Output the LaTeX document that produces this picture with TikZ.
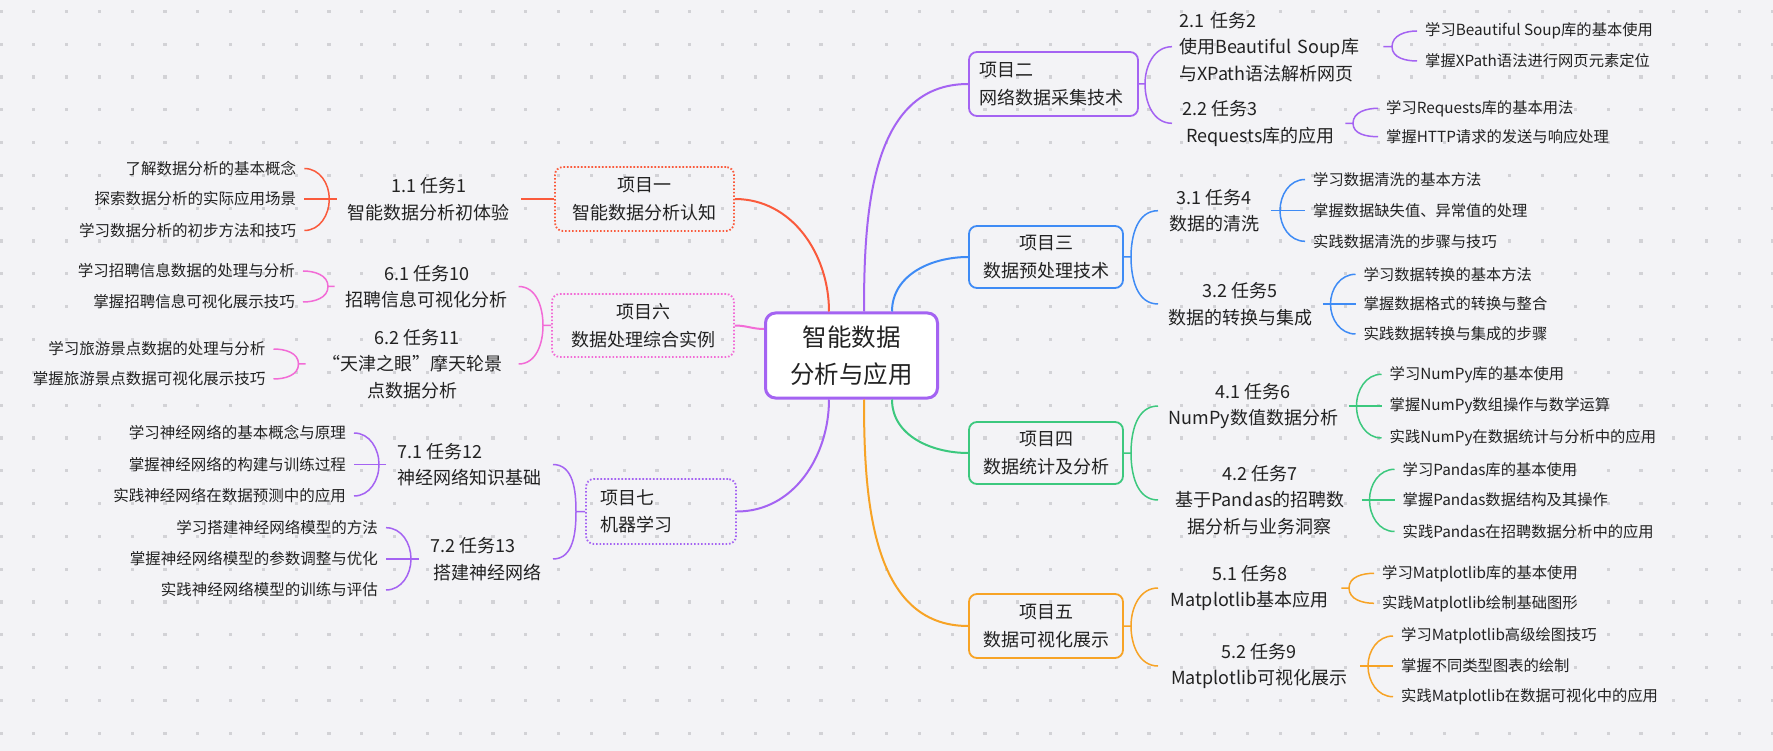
\documentclass[tikz,border=0pt]{standalone}
\usepackage{fontspec}
\setmainfont{Noto Sans CJK SC}
\definecolor{bgc}{HTML}{F3F3F6}
\definecolor{dotc}{HTML}{D2D2D6}
\definecolor{txt}{HTML}{222222}
\definecolor{cred}{HTML}{FA5A3C}
\definecolor{cpink}{HTML}{F26BD6}
\definecolor{cpurp}{HTML}{A463F2}
\definecolor{cblue}{HTML}{3E8BF5}
\definecolor{cgreen}{HTML}{3CC87E}
\definecolor{corange}{HTML}{F7A325}
\begin{document}
\begin{tikzpicture}[x=1pt,y=-1pt,
  centerbox/.style={draw=cpurp, line width=3pt, fill=white, rounded corners=10pt, minimum width=172pt, minimum height=85pt, align=center, text=txt, font=\fontsize{24.5}{37}\selectfont},
  proj/.style={line width=1.8pt, rounded corners=8pt, minimum height=64pt, align=center, text=txt, font=\fontsize{18}{27.5}\selectfont},
  dotline/.style={dash pattern=on 1.6pt off 1.9pt},
  task/.style={inner xsep=7pt, inner ysep=1pt, align=center, text=txt, font=\fontsize{18}{26.5}\selectfont},
  leafR/.style={anchor=west, inner xsep=8pt, inner ysep=1pt, text=txt, font=\fontsize{15.3}{18}\selectfont},
  leafL/.style={anchor=east, inner xsep=8pt, inner ysep=1pt, text=txt, font=\fontsize{15.5}{19}\selectfont},
  br/.style={line width=1.5pt},
  link/.style={line width=2pt}
]
\fill[bgc] (0,0) rectangle (1773,751);
\useasboundingbox (0,0) rectangle (1773,751);
\foreach \i in {0,...,54} \foreach \j in {0,...,22}
  \fill[dotc] ({1+32.8*\i-1.6},{11.5+32.8*\j-1.6}) rectangle ++(3.2,3.2);

% central
\node[centerbox] (c) at (851.5,355.5) {智能数据\\分析与应用};

% projects
\node[proj, draw=cred, dotline, minimum width=179pt] (p1) at (644.5,199) {项目一\\智能数据分析认知};
\node[proj, draw=cpink, dotline, minimum width=182pt, minimum height=63pt] (p6) at (643,325.5) {项目六\\数据处理综合实例};
\node[proj, draw=cpurp, dotline, align=left, text width=122pt, inner xsep=14pt, minimum height=65pt] (p7) at (661,511.5) {项目七\\机器学习};
\node[proj, draw=cpurp, align=left, text width=149pt, inner xsep=10pt] (p2) at (1053.5,84) {项目二\\网络数据采集技术};
\node[proj, draw=cblue, minimum width=154pt, minimum height=62pt] (p3) at (1046,257) {项目三\\数据预处理技术};
\node[proj, draw=cgreen, minimum width=154pt, minimum height=62pt] (p4) at (1046,453) {项目四\\数据统计及分析};
\node[proj, draw=corange, minimum width=154pt] (p5) at (1046,626) {项目五\\数据可视化展示};

% central links
\draw[link,cred] ([xshift=-22.5pt]c.north) to[out=90,in=0] (p1.east);
\draw[link,cpink] ([yshift=26.5pt]c.west) to[out=180,in=0] (p6.east);
\draw[link,cpurp] ([xshift=-22.5pt]c.south) to[out=-90,in=0] (p7.east);
\draw[link,cpurp] ([xshift=12.5pt]c.north) to[out=90,in=180] (p2.west);
\draw[link,cblue] ([xshift=40.5pt]c.north) to[out=90,in=180] (p3.west);
\draw[link,cgreen] ([xshift=40.5pt]c.south) to[out=-90,in=180] (p4.west);
\draw[link,corange] ([xshift=12.5pt]c.south) to[out=-90,in=180] (p5.west);

% ---------- project 1
\node[task, anchor=east, minimum width=183.7pt] (t11) at (521,199) {1.1 任务1\\智能数据分析初体验};
\draw[link,cred] (p1.west) -- (t11.east);
\coordinate (j11) at (329.3,199);
\node[leafL] (l111) at (304.3,168.5) {了解数据分析的基本概念};
\node[leafL] (l112) at (304.3,199) {探索数据分析的实际应用场景};
\node[leafL] (l113) at (304.3,230.5) {学习数据分析的初步方法和技巧};
\draw[br,cred] (t11.west) -- (l112.east);
\draw[br,cred] (j11) to[out=90,in=0] (l111.east);
\draw[br,cred] (j11) to[out=-90,in=0] (l113.east);

% ---------- project 6
\coordinate (jp6) at (543,325.5);
\node[task, anchor=east, minimum width=183.6pt] (t61) at (518.6,286.5) {6.1 任务10\\招聘信息可视化分析};
\node[task, anchor=east, minimum width=212.6pt] (t62) at (518.6,364) {\hspace{10pt}6.2 任务11\\“天津之眼”摩天轮景\\点数据分析};
\draw[br,cpink] (p6.west) -- (jp6) to[out=90,in=0] (t61.east);
\draw[br,cpink] (jp6) to[out=-90,in=0] (t62.east);
\coordinate (j61) at (328,286.5);
\node[leafL] (l611) at (303,271) {学习招聘信息数据的处理与分析};
\node[leafL] (l612) at (303,302) {掌握招聘信息可视化展示技巧};
\draw[br,cpink] (t61.west) -- (j61) to[out=90,in=0] (l611.east);
\draw[br,cpink] (j61) to[out=-90,in=0] (l612.east);
\coordinate (j62) at (298.5,364);
\node[leafL] (l621) at (273.5,349) {学习旅游景点数据的处理与分析};
\node[leafL] (l622) at (273.5,379) {掌握旅游景点数据可视化展示技巧};
\draw[br,cpink] (t62.west) -- (j62) to[out=90,in=0] (l621.east);
\draw[br,cpink] (j62) to[out=-90,in=0] (l622.east);

% ---------- project 7
\coordinate (jp7) at (576,511.5);
\node[task, anchor=east, align=left, minimum width=166.5pt] (t71) at (553,464.5) {7.1 任务12\\神经网络知识基础};
\node[task, anchor=east, align=left, minimum width=134pt] (t72) at (553,559) {7.2 任务13\\\hspace{3pt}搭建神经网络};
\draw[br,cpurp] (p7.west) -- (jp7) to[out=90,in=0] (t71.east);
\draw[br,cpurp] (jp7) to[out=-90,in=0] (t72.east);
\coordinate (j71) at (379,464.5);
\node[leafL] (l711) at (354,433) {学习神经网络的基本概念与原理};
\node[leafL] (l712) at (354,464.5) {掌握神经网络的构建与训练过程};
\node[leafL] (l713) at (354,496) {实践神经网络在数据预测中的应用};
\draw[br,cpurp] (t71.west) -- (l712.east);
\draw[br,cpurp] (j71) to[out=90,in=0] (l711.east);
\draw[br,cpurp] (j71) to[out=-90,in=0] (l713.east);
\coordinate (j72) at (411,559);
\node[leafL] (l721) at (386,527.7) {学习搭建神经网络模型的方法};
\node[leafL] (l722) at (386,559) {掌握神经网络模型的参数调整与优化};
\node[leafL] (l723) at (386,590) {实践神经网络模型的训练与评估};
\draw[br,cpurp] (t72.west) -- (l722.east);
\draw[br,cpurp] (j72) to[out=90,in=0] (l721.east);
\draw[br,cpurp] (j72) to[out=-90,in=0] (l723.east);

% ---------- project 2
\coordinate (jp2) at (1145,84);
\node[task, anchor=west, align=left, text width=197pt] (t21) at (1172,46.7) {2.1 任务2\\使用Beautiful Soup库\\与XPath语法解析网页};
\node[task, anchor=west, align=left, minimum width=173pt] (t22) at (1172,123.3) {2.2 任务3\\\hspace{4pt}Requests库的应用};
\draw[br,cpurp] (p2.east) -- (jp2) to[out=90,in=180] (t21.west);
\draw[br,cpurp] (jp2) to[out=-90,in=180] (t22.west);
\coordinate (j21) at (1392,46.7);
\node[leafR] (l211) at (1417,31) {学习Beautiful Soup库的基本使用};
\node[leafR] (l212) at (1417,61) {掌握XPath语法进行网页元素定位};
\draw[br,cpurp] (t21.east) -- (j21) to[out=90,in=180] (l211.west);
\draw[br,cpurp] (j21) to[out=-90,in=180] (l212.west);
\coordinate (j22) at (1353,123.3);
\node[leafR] (l221) at (1378,108.3) {学习Requests库的基本用法};
\node[leafR] (l222) at (1378,136.7) {掌握HTTP请求的发送与响应处理};
\draw[br,cpurp] (t22.east) -- (j22) to[out=90,in=180] (l221.west);
\draw[br,cpurp] (j22) to[out=-90,in=180] (l222.west);

% ---------- project 3
\coordinate (jp3) at (1131,257);
\node[task, anchor=west, minimum width=112.5pt] (t31) at (1158,210.7) {3.1 任务4\\数据的清洗};
\node[task, anchor=west, minimum width=164.5pt] (t32) at (1158,304) {3.2 任务5\\数据的转换与集成};
\draw[br,cblue] (p3.east) -- (jp3) to[out=90,in=180] (t31.west);
\draw[br,cblue] (jp3) to[out=-90,in=180] (t32.west);
\coordinate (j31) at (1280,210.7);
\node[leafR] (l311) at (1305,179.5) {学习数据清洗的基本方法};
\node[leafR] (l312) at (1305,210.7) {掌握数据缺失值、异常值的处理};
\node[leafR] (l313) at (1305,241.3) {实践数据清洗的步骤与技巧};
\draw[br,cblue] (t31.east) -- (l312.west);
\draw[br,cblue] (j31) to[out=90,in=180] (l311.west);
\draw[br,cblue] (j31) to[out=-90,in=180] (l313.west);
\coordinate (j32) at (1330.5,304);
\node[leafR] (l321) at (1355.5,274.3) {学习数据转换的基本方法};
\node[leafR] (l322) at (1355.5,304) {掌握数据格式的转换与整合};
\node[leafR] (l323) at (1355.5,334) {实践数据转换与集成的步骤};
\draw[br,cblue] (t32.east) -- (l322.west);
\draw[br,cblue] (j32) to[out=90,in=180] (l321.west);
\draw[br,cblue] (j32) to[out=-90,in=180] (l323.west);

% ---------- project 4
\coordinate (jp4) at (1131,453);
\node[task, anchor=west, minimum width=190.5pt] (t41) at (1158,406) {4.1 任务6\\NumPy数值数据分析};
\node[task, anchor=west, minimum width=203.5pt] (t42) at (1158,500) {4.2 任务7\\基于Pandas的招聘数\\据分析与业务洞察};
\draw[br,cgreen] (p4.east) -- (jp4) to[out=90,in=180] (t41.west);
\draw[br,cgreen] (jp4) to[out=-90,in=180] (t42.west);
\coordinate (j41) at (1356.5,406);
\node[leafR] (l411) at (1381.5,374.3) {学习NumPy库的基本使用};
\node[leafR] (l412) at (1381.5,406) {掌握NumPy数组操作与数学运算};
\node[leafR] (l413) at (1381.5,438) {实践NumPy在数据统计与分析中的应用};
\draw[br,cgreen] (t41.east) -- (l412.west);
\draw[br,cgreen] (j41) to[out=90,in=180] (l411.west);
\draw[br,cgreen] (j41) to[out=-90,in=180] (l413.west);
\coordinate (j42) at (1369.5,500);
\node[leafR] (l421) at (1394.5,469.3) {学习Pandas库的基本使用};
\node[leafR] (l422) at (1394.5,500) {掌握Pandas数据结构及其操作};
\node[leafR] (l423) at (1394.5,531.5) {实践Pandas在招聘数据分析中的应用};
\draw[br,cgreen] (t42.east) -- (l422.west);
\draw[br,cgreen] (j42) to[out=90,in=180] (l421.west);
\draw[br,cgreen] (j42) to[out=-90,in=180] (l423.west);

% ---------- project 5
\coordinate (jp5) at (1131,626);
\node[task, anchor=west, minimum width=183pt] (t51) at (1158,588) {5.1 任务8\\Matplotlib基本应用};
\node[task, anchor=west, minimum width=202pt] (t52) at (1158,666) {5.2 任务9\\Matplotlib可视化展示};
\draw[br,corange] (p5.east) -- (jp5) to[out=90,in=180] (t51.west);
\draw[br,corange] (jp5) to[out=-90,in=180] (t52.west);
\coordinate (j51) at (1349,588);
\node[leafR] (l511) at (1374,573.3) {学习Matplotlib库的基本使用};
\node[leafR] (l512) at (1374,603.3) {实践Matplotlib绘制基础图形};
\draw[br,corange] (t51.east) -- (j51) to[out=90,in=180] (l511.west);
\draw[br,corange] (j51) to[out=-90,in=180] (l512.west);
\coordinate (j52) at (1368,666);
\node[leafR] (l521) at (1393,636) {学习Matplotlib高级绘图技巧};
\node[leafR] (l522) at (1393,666) {掌握不同类型图表的绘制};
\node[leafR] (l523) at (1393,696.7) {实践Matplotlib在数据可视化中的应用};
\draw[br,corange] (t52.east) -- (l522.west);
\draw[br,corange] (j52) to[out=90,in=180] (l521.west);
\draw[br,corange] (j52) to[out=-90,in=180] (l523.west);
\end{tikzpicture}
\end{document}
